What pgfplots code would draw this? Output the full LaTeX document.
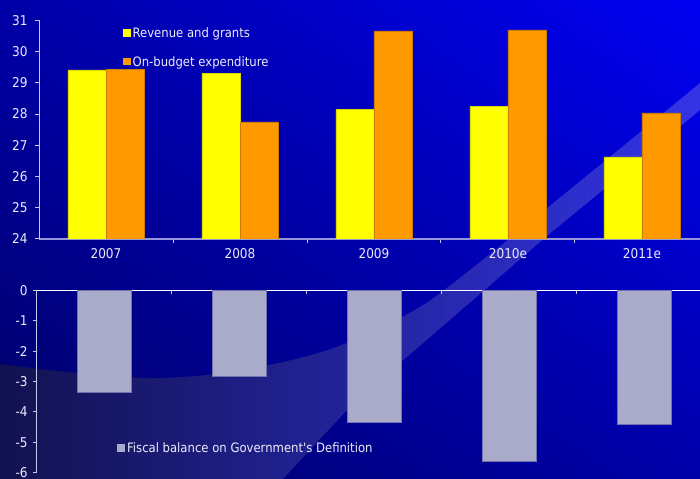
\documentclass[border=0pt]{standalone}
\usepackage{fontspec}
\setmainfont{DejaVu Sans Condensed}
\usepackage{pgfplots}
\pgfplotsset{compat=1.18}
\usetikzlibrary{shadings}
\definecolor{bgUL}{RGB}{0,0,168}
\definecolor{bgUR}{RGB}{0,0,242}
\definecolor{bgLL}{RGB}{0,0,100}
\definecolor{bgLR}{RGB}{0,0,170}
\definecolor{swL}{RGB}{18,18,80}
\definecolor{swR}{RGB}{52,52,230}
\definecolor{barY}{RGB}{255,255,0}
\definecolor{barO}{RGB}{255,153,0}
\definecolor{barG}{RGB}{170,170,202}
\definecolor{barGe}{RGB}{115,115,175}
\definecolor{txt}{RGB}{236,236,250}
\definecolor{axTop}{RGB}{150,150,220}
\definecolor{axLeft}{RGB}{200,200,235}
\begin{document}
\begin{tikzpicture}[x=1bp,y=1bp]
\shade[upper left=bgUL, upper right=bgUR, lower left=bgLL, lower right=bgLR] (0,0) rectangle (700,479);
\begin{scope}
\clip (0,0) rectangle (700,479);
\shade[left color=swL, right color=swR] plot[smooth, tension=0.6] coordinates {(0,115) (160,101) (300,121) (400,161) (480,217) (700,396)} -- (700,369) -- (547,243) -- (400,116) -- (347,69) -- (283,0) -- (0,0) -- cycle;
\end{scope}

\begin{axis}[
  at={(39bp,240bp)}, anchor=south west, scale only axis,
  width=661bp, height=218.7bp,
  xmin=-0.5, xmax=4.433, ymin=24, ymax=31,
  ybar=0pt, bar width=38bp,
  axis y line*=left, axis x line*=bottom,
  x axis line style={axTop, line width=1.5bp},
  y axis line style={axLeft, line width=1bp},
  tick style={axLeft, line width=1bp},
  major tick length=4bp, tick align=outside,
  ytick={24,25,...,31},
  xtick={0.5,1.5,2.5,3.5}, xticklabels={},
  extra x ticks={0,1,2,3,4},
  extra x tick labels={2007,2008,2009,2010e,2011e},
  extra x tick style={major tick length=0pt},
  tick label style={font=\fontsize{13.5}{15}\selectfont, text=txt},
  yticklabel style={xshift=-4bp},
  xticklabel style={yshift=-6bp},
  /pgf/number format/assume math mode=true,
  legend style={at={(0.127,0.975)}, anchor=north west, draw=none, fill=none,
    text=txt, font=\fontsize{13}{15}\selectfont, inner sep=0pt, row sep=13bp,
    nodes={inner xsep=2bp}},
  legend cell align=left,
  legend image code/.code={\fill[#1,draw=none] (0bp,-3.2bp) rectangle (7.5bp,4.3bp);},
]
\addplot[fill=barY, draw=barY!85!black, line width=0.5bp] coordinates {(0,29.41) (1,29.31) (2,28.14) (3,28.24) (4,26.63)};
\addlegendentry{Revenue and grants}
\addplot[fill=barO, draw=barO!80!black, line width=0.5bp] coordinates {(0,29.43) (1,27.75) (2,30.66) (3,30.69) (4,28.04)};
\addlegendentry{On-budget expenditure}
\end{axis}

\begin{axis}[
  at={(36.7bp,6.3bp)}, anchor=south west, scale only axis,
  width=663.3bp, height=182.4bp,
  xmin=-0.5, xmax=4.413, ymin=-6, ymax=0,
  ybar, bar width=54bp,
  axis y line*=left, axis x line*=top,
  x axis line style={white, line width=1.5bp},
  y axis line style={axLeft, line width=1bp},
  tick style={axLeft, line width=1bp},
  major tick length=4bp, tick align=outside,
  xtick align=inside,
  ytick={-6,-5,...,0},
  xtick={0.5,1.5,2.5,3.5}, xticklabels={},
  tick label style={font=\fontsize{13.5}{15}\selectfont, text=txt},
  yticklabel style={xshift=-1.5bp},
  /pgf/number format/assume math mode=true,
  legend style={at={(0.121,0.175)}, anchor=north west, draw=none, fill=none,
    text=txt, font=\fontsize{13}{15}\selectfont, inner sep=0pt,
    nodes={inner xsep=2bp}},
  legend cell align=left,
  legend image code/.code={\fill[#1,draw=none] (0bp,-3.5bp) rectangle (8bp,4.5bp);},
]
\addplot[fill=barG, draw=barGe, line width=0.6bp] coordinates {(0,-3.37) (1,-2.84) (2,-4.34) (3,-5.63) (4,-4.41)};
\addlegendentry{Fiscal balance on Government\textquotesingle s Definition}
\end{axis}
\pgfresetboundingbox
\useasboundingbox (0,0) rectangle (700,479);
\end{tikzpicture}
\end{document}
